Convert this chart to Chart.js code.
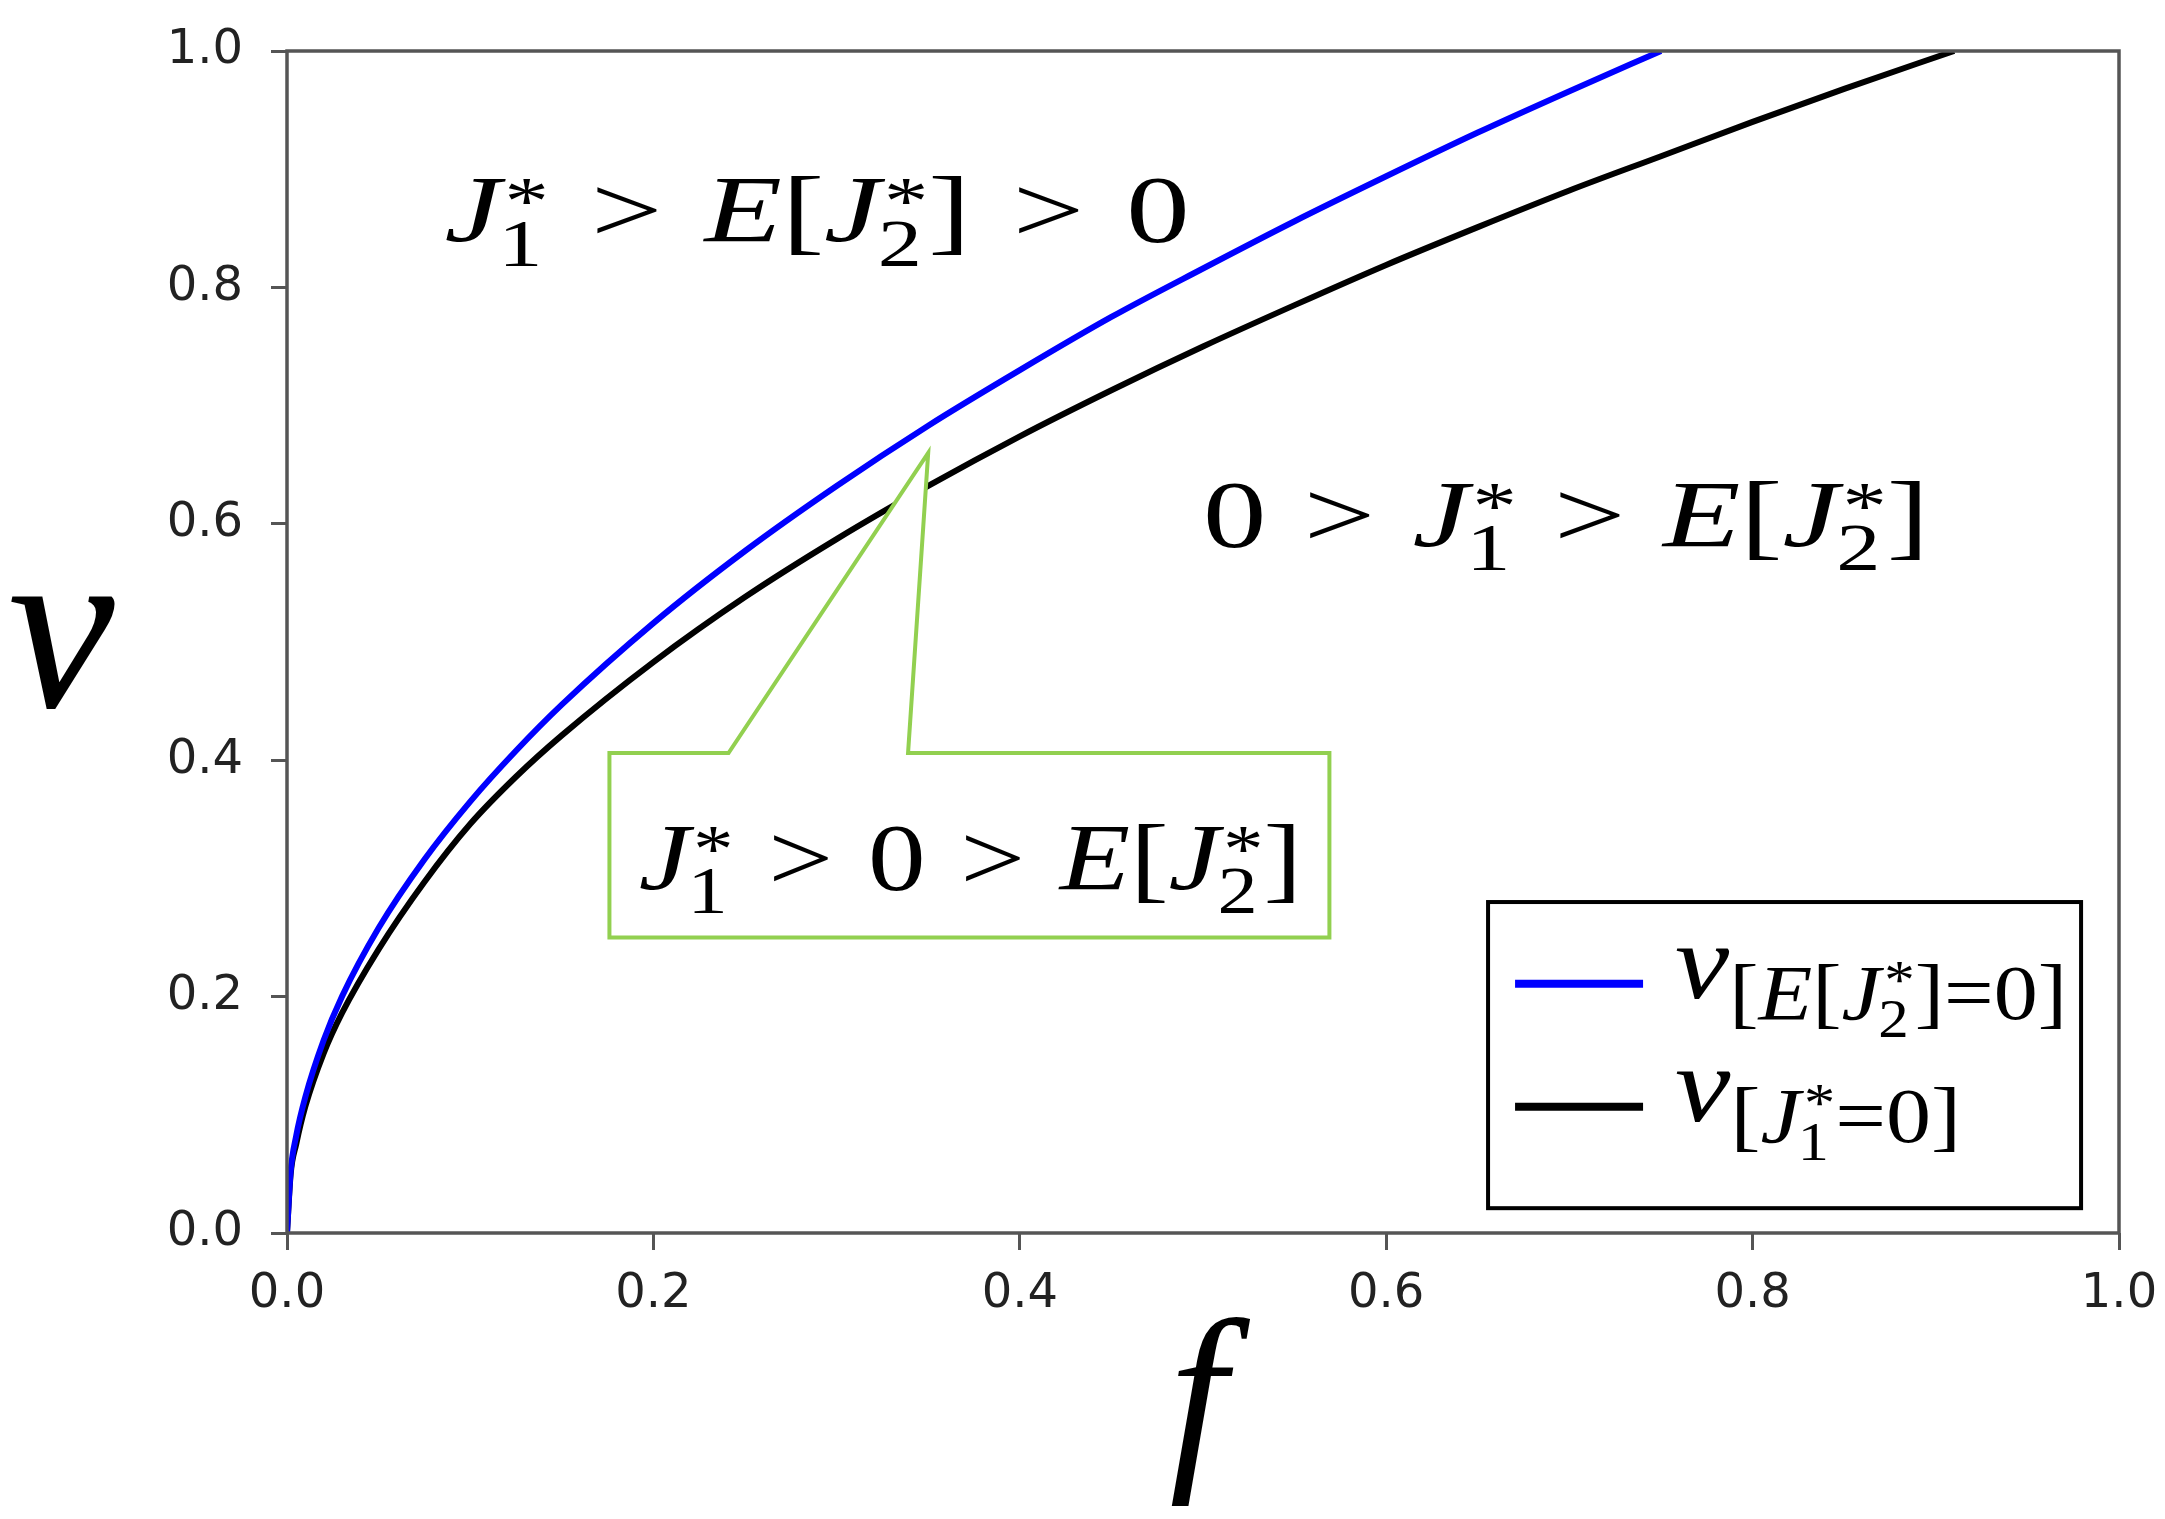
<!DOCTYPE html>
<html>
<head>
<meta charset="utf-8">
<script src="https://cdn.jsdelivr.net/npm/chart.js@4.4.1/dist/chart.umd.min.js"></script>
<style>
  html, body { margin: 0; padding: 0; background: #fff; }
  #wrap { width: 2165px; height: 1519px; }
</style>
</head>
<body>
<div id="wrap"><canvas id="regionChart"></canvas></div>
<script>
// Boundary curves
// blue: v where E[J2*] = 0, black: v where J1* = 0
const blueF = [0, 0.002, 0.005, 0.01, 0.02, 0.03, 0.05, 0.075, 0.1, 0.125, 0.15, 0.2, 0.25, 0.3, 0.35, 0.4, 0.45, 0.5, 0.55, 0.6, 0.65, 0.7, 0.75];
const blueV = [0, 0.052, 0.082, 0.115, 0.163, 0.2, 0.258, 0.316, 0.365, 0.408, 0.447, 0.516, 0.577, 0.632, 0.683, 0.73, 0.775, 0.816, 0.856, 0.894, 0.931, 0.966, 1.0];
const blackF = [0, 0.002, 0.005, 0.01, 0.02, 0.03, 0.05, 0.075, 0.1, 0.125, 0.15, 0.2, 0.25, 0.3, 0.35, 0.4, 0.45, 0.5, 0.55, 0.6, 0.65, 0.7, 0.75, 0.8, 0.85, 0.91];
const blackV = [0, 0.05, 0.075, 0.107, 0.152, 0.186, 0.24, 0.297, 0.346, 0.386, 0.421, 0.483, 0.538, 0.587, 0.632, 0.674, 0.713, 0.75, 0.785, 0.819, 0.851, 0.882, 0.911, 0.94, 0.968, 1.0];
const tickValues = [0, 0.2, 0.4, 0.6, 0.8, 1.0];

const MATH_FONT = '"Liberation Serif", "DejaVu Serif", serif';
const green = '#92D050';

// tiny math-ish layout: italic letters, sub/superscripts, relation spacing.
// relations get their gap stretched so the run fills `target` px
function drawMath(ctx, items, x, base, size, target, sx) {
    const font = (it, s) => (it ? 'italic ' : '') + Math.round(s) + 'px ' + MATH_FONT;
    const ops = [];
    let w = 0, nRel = 0;
    for (const it of items) {
        if (it.rel) {
            nRel++;
            ctx.font = font(false, size);
            ops.push({ t: it.t, f: ctx.font, x: w, dy: 0, rel: nRel });
            w += ctx.measureText(it.t).width;
        } else if (it.sub !== undefined) {
            const s = size * (it.scale || 0.7);
            ctx.font = font(false, s);
            const f = ctx.font;
            ops.push({ t: it.sup, f: f, x: w + 0.03 * size, dy: (it.supDy !== undefined ? it.supDy : -0.2) * size, rel: nRel });
            ops.push({ t: it.sub, f: f, x: w - 0.02 * size, dy: (it.subDy !== undefined ? it.subDy : 0.24) * size, rel: nRel });
            w += Math.max(ctx.measureText(it.sup).width + 0.03 * size, ctx.measureText(it.sub).width);
        } else {
            const s = size * (it.scale || 1);
            ctx.font = font(it.it, s);
            ops.push({ t: it.t, f: ctx.font, x: w, dy: (it.dy || 0) * size, rel: nRel });
            w += ctx.measureText(it.t).width;
        }
    }
    let gap = 0;
    if (nRel > 0) {
        gap = (target / sx - w) / (2 * nRel);
    } else {
        sx = target / w;
    }
    ctx.save();
    ctx.translate(x, base);
    ctx.scale(sx, 1);
    ctx.textAlign = 'left';
    ctx.textBaseline = 'alphabetic';
    ctx.fillStyle = '#000';
    for (const o of ops) {
        ctx.font = o.f;
        const shift = o.t === '>' && o.rel ? (2 * o.rel - 1) * gap : 2 * o.rel * gap;
        ctx.fillText(o.t, o.x + shift, o.dy);
    }
    ctx.restore();
}

const J1 = [{ t: 'J', it: true }, { sup: '*', sub: '1' }];
const EJ2 = [{ t: 'E', it: true }, { t: '[' }, { t: 'J', it: true }, { sup: '*', sub: '2' }, { t: ']' }];
const GT = { t: '>', rel: true };
const ZERO = { t: '0' };

const overlay = {
    id: 'overlay',
    afterDatasetsDraw(chart) {
        const { ctx, chartArea: a, scales: { x, y } } = chart;
        ctx.save();

        // callout box with pointer
        const bx0 = x.getPixelForValue(0.176), bx1 = x.getPixelForValue(0.569);
        const by0 = y.getPixelForValue(0.406), by1 = y.getPixelForValue(0.25);
        ctx.beginPath();
        ctx.moveTo(bx0, by1);
        ctx.lineTo(bx0, by0);
        ctx.lineTo(x.getPixelForValue(0.241), by0);
        ctx.lineTo(x.getPixelForValue(0.350), y.getPixelForValue(0.66));
        ctx.lineTo(x.getPixelForValue(0.339), by0);
        ctx.lineTo(bx1, by0);
        ctx.lineTo(bx1, by1);
        ctx.closePath();
        ctx.fillStyle = '#fff';
        ctx.fill();
        ctx.strokeStyle = green;
        ctx.lineWidth = 4;
        ctx.lineJoin = 'miter';
        ctx.stroke();

        // region labels
        drawMath(ctx, [...J1, GT, ...EJ2, GT, ZERO],
            x.getPixelForValue(0.086), y.getPixelForValue(0.838), 96, 745, 1.32);
        drawMath(ctx, [ZERO, GT, ...J1, GT, ...EJ2],
            x.getPixelForValue(0.50), y.getPixelForValue(0.580), 96, 726, 1.32);
        drawMath(ctx, [...J1, GT, ZERO, GT, ...EJ2],
            x.getPixelForValue(0.192), y.getPixelForValue(0.290), 96, 663, 1.2);

        // legend
        const lx0 = x.getPixelForValue(0.6556), lx1 = x.getPixelForValue(0.9793);
        const ly0 = y.getPixelForValue(0.280), ly1 = y.getPixelForValue(0.021);
        ctx.fillStyle = '#fff';
        ctx.fillRect(lx0, ly0, lx1 - lx0, ly1 - ly0);
        ctx.strokeStyle = '#000';
        ctx.lineWidth = 4;
        ctx.strokeRect(lx0, ly0, lx1 - lx0, ly1 - ly0);

        const sub = (t, it) => ({ t: t, it: it, scale: 0.72, dy: 0.2 });
        const subJ = (n) => ({ sup: '*', sub: n, scale: 0.5, supDy: 0.0, subDy: 0.36 });
        const labels = [
            [{ t: 'v', it: true }, sub('['), sub('E', true), sub('['), sub('J', true), subJ('2'), sub(']=0]')],
            [{ t: 'v', it: true }, sub('['), sub('J', true), subJ('1'), sub('=0]')]
        ];
        const rows = [y.getPixelForValue(0.199), y.getPixelForValue(0.095)];
        const widths = [392, 286];
        chart.data.datasets.forEach((ds, i) => {
            ctx.strokeStyle = ds.borderColor;
            ctx.lineWidth = 8;
            ctx.beginPath();
            ctx.moveTo(lx0 + 27, rows[i] - 14);
            ctx.lineTo(lx0 + 155, rows[i] - 14);
            ctx.stroke();
            drawMath(ctx, labels[i], lx0 + 187, rows[i], 108, widths[i], 1);
        });

        // axes frame
        ctx.strokeStyle = '#555';
        ctx.lineWidth = 3.5;
        ctx.strokeRect(a.left, a.top, a.right - a.left, a.bottom - a.top);

        // axis titles
        ctx.fillStyle = '#000';
        ctx.textAlign = 'left';
        ctx.textBaseline = 'alphabetic';
        ctx.font = 'italic 240px ' + MATH_FONT;
        ctx.fillText('v', 8, 707);
        ctx.textAlign = 'center';
        ctx.font = 'italic 205px ' + MATH_FONT;
        ctx.fillText('f', (a.left + a.right) / 2 - 5, 1462);
        ctx.restore();
    }
};

const tickFont = { family: '"DejaVu Sans", sans-serif', size: 48 };

const ctx = document.getElementById('regionChart').getContext('2d');
new Chart(ctx, {
    type: 'line',
    data: {
        datasets: [{
            label: 'v[E[J2*]=0]',
            data: blueF.map((f, i) => ({ x: f, y: blueV[i] })),
            borderColor: '#0000ff',
            borderWidth: 6,
            pointRadius: 0,
            cubicInterpolationMode: 'monotone',
        }, {
            label: 'v[J1*=0]',
            data: blackF.map((f, i) => ({ x: f, y: blackV[i] })),
            borderColor: '#000000',
            borderWidth: 6,
            pointRadius: 0,
            cubicInterpolationMode: 'monotone',
        }],
    },
    options: {
        responsive: true,
        maintainAspectRatio: false,
        devicePixelRatio: 1,
        animation: false,
        layout: { padding: { top: 51, right: 46, left: 0, bottom: 0 } },
        plugins: {
            legend: { display: false },
            tooltip: { enabled: false },
        },
        scales: {
            x: {
                type: 'linear',
                min: 0,
                max: 1,
                afterBuildTicks: (s) => { s.ticks = tickValues.map(v => ({ value: v })); },
                afterFit: (s) => { s.height = 286; s.paddingLeft = 0; s.paddingRight = 0; },
                ticks: { callback: v => v.toFixed(1), font: tickFont, color: '#222', padding: 16, maxRotation: 0, autoSkip: false },
                grid: { drawOnChartArea: false, drawTicks: true, tickLength: 17, tickWidth: 3, tickColor: '#555' },
                border: { display: false },
            },
            y: {
                type: 'linear',
                min: 0,
                max: 1,
                afterBuildTicks: (s) => { s.ticks = tickValues.map(v => ({ value: v })); },
                afterFit: (s) => { s.width = 287; s.paddingTop = 0; s.paddingBottom = 0; },
                ticks: { callback: v => v.toFixed(1), font: tickFont, color: '#222', padding: 28, autoSkip: false },
                grid: { drawOnChartArea: false, drawTicks: true, tickLength: 16, tickWidth: 3, tickColor: '#555' },
                border: { display: false },
            },
        },
    },
    plugins: [overlay],
});
</script>
</body>
</html>
